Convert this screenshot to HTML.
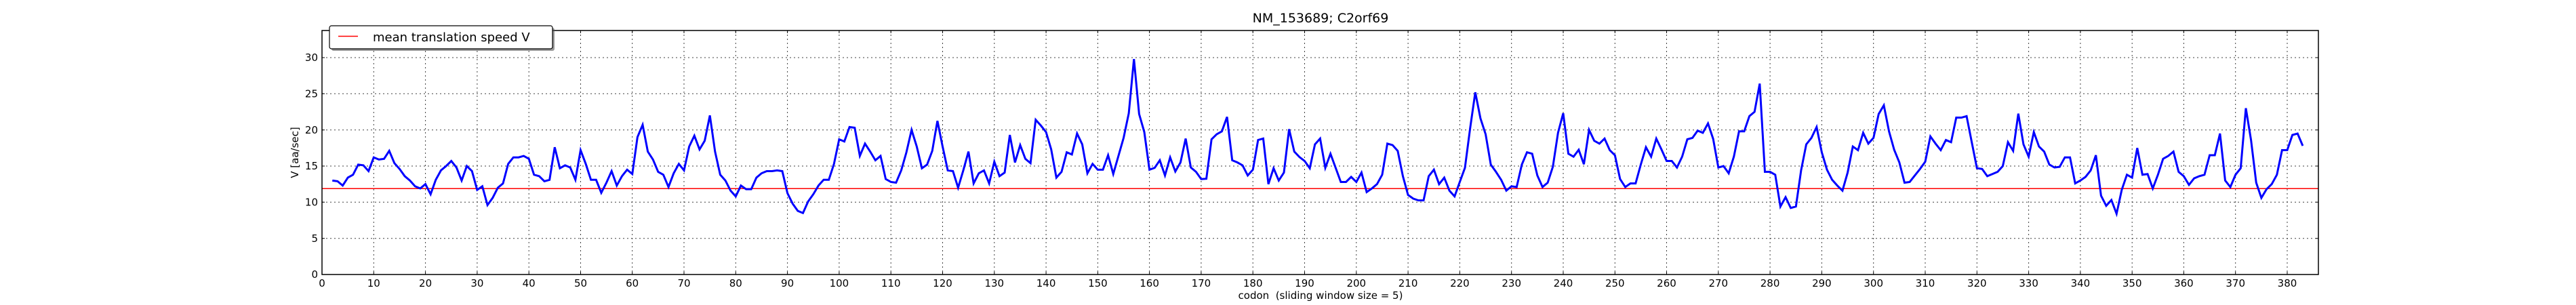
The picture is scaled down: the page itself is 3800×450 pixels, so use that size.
<!DOCTYPE html>
<html><head><meta charset="utf-8"><style>
html,body{margin:0;padding:0;background:#fff;}
svg{display:block;font-family:"DejaVu Sans","Liberation Sans",sans-serif;}
</style></head><body>
<svg width="3800" height="450" viewBox="0 0 3800 450" xmlns="http://www.w3.org/2000/svg">
<rect width="3800" height="450" fill="#fff"/>
<g stroke="#000" stroke-width="1" stroke-dasharray="2,4" opacity="0.75">
<line x1="475" x2="3420" y1="351.7" y2="351.7"/><line x1="475" x2="3420" y1="298.3" y2="298.3"/><line x1="475" x2="3420" y1="245" y2="245"/><line x1="475" x2="3420" y1="191.7" y2="191.7"/><line x1="475" x2="3420" y1="138.3" y2="138.3"/><line x1="475" x2="3420" y1="85" y2="85"/>
<line y1="45" y2="405" x1="551.3" x2="551.3"/><line y1="45" y2="405" x1="627.6" x2="627.6"/><line y1="45" y2="405" x1="703.9" x2="703.9"/><line y1="45" y2="405" x1="780.2" x2="780.2"/><line y1="45" y2="405" x1="856.5" x2="856.5"/><line y1="45" y2="405" x1="932.7" x2="932.7"/><line y1="45" y2="405" x1="1009" x2="1009"/><line y1="45" y2="405" x1="1085.3" x2="1085.3"/><line y1="45" y2="405" x1="1161.6" x2="1161.6"/><line y1="45" y2="405" x1="1237.9" x2="1237.9"/><line y1="45" y2="405" x1="1314.2" x2="1314.2"/><line y1="45" y2="405" x1="1390.5" x2="1390.5"/><line y1="45" y2="405" x1="1466.8" x2="1466.8"/><line y1="45" y2="405" x1="1543.1" x2="1543.1"/><line y1="45" y2="405" x1="1619.4" x2="1619.4"/><line y1="45" y2="405" x1="1695.6" x2="1695.6"/><line y1="45" y2="405" x1="1771.9" x2="1771.9"/><line y1="45" y2="405" x1="1848.2" x2="1848.2"/><line y1="45" y2="405" x1="1924.5" x2="1924.5"/><line y1="45" y2="405" x1="2000.8" x2="2000.8"/><line y1="45" y2="405" x1="2077.1" x2="2077.1"/><line y1="45" y2="405" x1="2153.4" x2="2153.4"/><line y1="45" y2="405" x1="2229.7" x2="2229.7"/><line y1="45" y2="405" x1="2306" x2="2306"/><line y1="45" y2="405" x1="2382.3" x2="2382.3"/><line y1="45" y2="405" x1="2458.5" x2="2458.5"/><line y1="45" y2="405" x1="2534.8" x2="2534.8"/><line y1="45" y2="405" x1="2611.1" x2="2611.1"/><line y1="45" y2="405" x1="2687.4" x2="2687.4"/><line y1="45" y2="405" x1="2763.7" x2="2763.7"/><line y1="45" y2="405" x1="2840" x2="2840"/><line y1="45" y2="405" x1="2916.3" x2="2916.3"/><line y1="45" y2="405" x1="2992.6" x2="2992.6"/><line y1="45" y2="405" x1="3068.9" x2="3068.9"/><line y1="45" y2="405" x1="3145.2" x2="3145.2"/><line y1="45" y2="405" x1="3221.4" x2="3221.4"/><line y1="45" y2="405" x1="3297.7" x2="3297.7"/><line y1="45" y2="405" x1="3374" x2="3374"/>
</g>
<line x1="475" x2="3420" y1="278.3" y2="278.3" stroke="#f00" stroke-width="1.5"/>
<g transform="translate(475,405) scale(7.629,-10.667)">
<polyline fill="none" stroke="#0000ff" stroke-width="3" vector-effect="non-scaling-stroke" stroke-linejoin="miter" points="2,13.0 3,12.9 4,12.3 5,13.4 6,13.8 7,15.2 8,15.1 9,14.3 10,16.2 11,15.9 12,16.0 13,17.1 14,15.4 15,14.6 16,13.6 17,13.0 18,12.2 19,11.9 20,12.5 21,11.1 22,13.1 23,14.4 24,15.0 25,15.7 26,14.8 27,13.0 28,15.0 29,14.3 30,11.7 31,12.2 32,9.6 33,10.6 34,12.0 35,12.6 36,15.3 37,16.2 38,16.2 39,16.4 40,16.0 41,13.8 42,13.6 43,12.9 44,13.1 45,17.6 46,14.7 47,15.1 48,14.8 49,13.1 50,17.2 51,15.3 52,13.1 53,13.1 54,11.3 55,12.7 56,14.3 57,12.3 58,13.6 59,14.5 60,13.9 61,19.0 62,20.7 63,17.0 64,15.9 65,14.2 66,13.8 67,12.1 68,14.0 69,15.3 70,14.4 71,17.7 72,19.2 73,17.3 74,18.5 75,22.0 76,17.0 77,13.8 78,13.0 79,11.6 80,10.8 81,12.3 82,11.8 83,11.8 84,13.4 85,14.0 86,14.3 87,14.3 88,14.4 89,14.3 90,11.25 91,9.8 92,8.8 93,8.5 94,10.1 95,11.1 96,12.3 97,13.1 98,13.1 99,15.3 100,18.7 101,18.4 102,20.4 103,20.3 104,16.4 105,18.1 106,17.0 107,15.8 108,16.4 109,13.2 110,12.8 111,12.7 112,14.4 113,16.9 114,20.0 115,17.7 116,14.7 117,15.2 118,17.1 119,21.25 120,17.7 121,14.4 122,14.3 123,12.0 124,14.4 125,17.0 126,12.6 127,14.0 128,14.4 129,12.6 130,15.6 131,13.6 132,14.1 133,19.3 134,15.5 135,17.9 136,16.0 137,15.4 138,21.4 139,20.6 140,19.7 141,17.3 142,13.4 143,14.2 144,16.9 145,16.6 146,19.5 147,18.0 148,14.0 149,15.3 150,14.5 151,14.5 152,16.5 153,13.9 154,16.4 155,18.9 156,22.3 157,29.8 158,22.2 159,19.7 160,14.5 161,14.75 162,15.8 163,13.7 164,16.2 165,14.25 166,15.5 167,18.8 168,14.8 169,14.2 170,13.2 171,13.25 172,18.7 173,19.4 174,19.8 175,21.8 176,15.8 177,15.5 178,15.1 179,13.7 180,14.5 181,18.6 182,18.8 183,12.5 184,14.7 185,13.0 186,14.1 187,20.1 188,17.0 189,16.25 190,15.7 191,14.7 192,18.0 193,18.8 194,14.75 195,16.7 196,14.75 197,12.8 198,12.8 199,13.5 200,12.8 201,14.1 202,11.4 203,11.9 204,12.5 205,13.8 206,18.1 207,17.9 208,17.1 209,13.6 210,11.0 211,10.5 212,10.25 213,10.25 214,13.6 215,14.5 216,12.5 217,13.4 218,11.6 219,10.8 220,12.8 221,14.75 222,20.2 223,25.2 224,21.6 225,19.4 226,15.2 227,14.2 228,13.1 229,11.6 230,12.2 231,12.1 232,15.2 233,16.9 234,16.7 235,13.7 236,12.1 237,12.7 238,14.9 239,19.6 240,22.3 241,16.7 242,16.3 243,17.25 244,15.25 245,20.0 246,18.5 247,18.1 248,18.8 249,17.2 250,16.5 251,13.2 252,12.1 253,12.6 254,12.6 255,15.2 256,17.6 257,16.3 258,18.8 259,17.3 260,15.7 261,15.7 262,14.8 263,16.3 264,18.7 265,18.9 266,19.9 267,19.6 268,20.9 269,18.75 270,14.8 271,15.0 272,14.0 273,16.3 274,19.8 275,19.8 276,21.9 277,22.5 278,26.4 279,14.2 280,14.2 281,13.8 282,9.4 283,10.7 284,9.2 285,9.4 286,14.4 287,18.0 288,18.9 289,20.4 290,16.9 291,14.5 292,13.1 293,12.3 294,11.6 295,14.1 296,17.7 297,17.2 298,19.6 299,18.1 300,18.9 301,22.2 302,23.4 303,19.8 304,17.25 305,15.5 306,12.7 307,12.8 308,13.7 309,14.6 310,15.6 311,19.1 312,18.1 313,17.2 314,18.6 315,18.3 316,21.7 317,21.7 318,21.9 319,18.3 320,14.7 321,14.6 322,13.6 323,13.9 324,14.2 325,15.0 326,18.3 327,17.1 328,22.25 329,18.0 330,16.3 331,19.7 332,17.7 333,17.0 334,15.2 335,14.8 336,14.9 337,16.2 338,16.2 339,12.6 340,13.0 341,13.5 342,14.4 343,16.5 344,10.9 345,9.5 346,10.3 347,8.4 348,11.7 349,13.8 350,13.4 351,17.5 352,13.8 353,13.9 354,11.9 355,13.8 356,16.0 357,16.4 358,17.0 359,14.2 360,13.6 361,12.4 362,13.3 363,13.6 364,13.8 365,16.5 366,16.5 367,19.5 368,13.0 369,12.1 370,13.8 371,14.7 372,23.0 373,18.6 374,12.7 375,10.6 376,11.8 377,12.5 378,13.8 379,17.2 380,17.2 381,19.3 382,19.5 383,17.8"/>
</g>
<g stroke="#000" stroke-width="1">
<path d="M475 351.7h4M475 298.3h4M475 245h4M475 191.7h4M475 138.3h4M475 85h4M3420 351.7h-4M3420 298.3h-4M3420 245h-4M3420 191.7h-4M3420 138.3h-4M3420 85h-4"/>
<path d="M551.3 405v-4M627.6 405v-4M703.9 405v-4M780.2 405v-4M856.5 405v-4M932.7 405v-4M1009 405v-4M1085.3 405v-4M1161.6 405v-4M1237.9 405v-4M1314.2 405v-4M1390.5 405v-4M1466.8 405v-4M1543.1 405v-4M1619.4 405v-4M1695.6 405v-4M1771.9 405v-4M1848.2 405v-4M1924.5 405v-4M2000.8 405v-4M2077.1 405v-4M2153.4 405v-4M2229.7 405v-4M2306 405v-4M2382.3 405v-4M2458.5 405v-4M2534.8 405v-4M2611.1 405v-4M2687.4 405v-4M2763.7 405v-4M2840 405v-4M2916.3 405v-4M2992.6 405v-4M3068.9 405v-4M3145.2 405v-4M3221.4 405v-4M3297.7 405v-4M3374 405v-4"/>
<path d="M551.3 45v4M627.6 45v4M703.9 45v4M780.2 45v4M856.5 45v4M932.7 45v4M1009 45v4M1085.3 45v4M1161.6 45v4M1237.9 45v4M1314.2 45v4M1390.5 45v4M1466.8 45v4M1543.1 45v4M1619.4 45v4M1695.6 45v4M1771.9 45v4M1848.2 45v4M1924.5 45v4M2000.8 45v4M2077.1 45v4M2153.4 45v4M2229.7 45v4M2306 45v4M2382.3 45v4M2458.5 45v4M2534.8 45v4M2611.1 45v4M2687.4 45v4M2763.7 45v4M2840 45v4M2916.3 45v4M2992.6 45v4M3068.9 45v4M3145.2 45v4M3221.4 45v4M3297.7 45v4M3374 45v4"/>
</g>
<rect x="475" y="45" width="2945" height="360" fill="none" stroke="#000" stroke-width="1.5"/>
<g fill="#000" font-size="15" text-anchor="end">
<text x="469" y="410">0</text><text x="469" y="357">5</text><text x="469" y="303.5">10</text><text x="469" y="250">15</text><text x="469" y="197">20</text><text x="469" y="143.5">25</text><text x="469" y="90">30</text>
</g>
<g fill="#000" font-size="15" text-anchor="middle">
<text x="475" y="423">0</text><text x="551.3" y="423">10</text><text x="627.6" y="423">20</text><text x="703.9" y="423">30</text><text x="780.2" y="423">40</text><text x="856.5" y="423">50</text><text x="932.7" y="423">60</text><text x="1009" y="423">70</text><text x="1085.3" y="423">80</text><text x="1161.6" y="423">90</text><text x="1237.9" y="423">100</text><text x="1314.2" y="423">110</text><text x="1390.5" y="423">120</text><text x="1466.8" y="423">130</text><text x="1543.1" y="423">140</text><text x="1619.4" y="423">150</text><text x="1695.6" y="423">160</text><text x="1771.9" y="423">170</text><text x="1848.2" y="423">180</text><text x="1924.5" y="423">190</text><text x="2000.8" y="423">200</text><text x="2077.1" y="423">210</text><text x="2153.4" y="423">220</text><text x="2229.7" y="423">230</text><text x="2306" y="423">240</text><text x="2382.3" y="423">250</text><text x="2458.5" y="423">260</text><text x="2534.8" y="423">270</text><text x="2611.1" y="423">280</text><text x="2687.4" y="423">290</text><text x="2763.7" y="423">300</text><text x="2840" y="423">310</text><text x="2916.3" y="423">320</text><text x="2992.6" y="423">330</text><text x="3068.9" y="423">340</text><text x="3145.2" y="423">350</text><text x="3221.4" y="423">360</text><text x="3297.7" y="423">370</text><text x="3374" y="423">380</text>
</g>
<text x="1948" y="33" font-size="19" text-anchor="middle" fill="#000">NM_153689; C2orf69</text>
<text x="1948" y="441" font-size="15" text-anchor="middle" fill="#000" xml:space="preserve">codon  (sliding window size = 5)</text>
<text transform="translate(440,225) rotate(-90)" font-size="15" text-anchor="middle" fill="#000">V [aa/sec]</text>
<rect x="489" y="41" width="329" height="34" rx="3" fill="#555" opacity="0.6"/>
<rect x="486" y="38" width="329" height="34" rx="3" fill="#fff" stroke="#000" stroke-width="1.2"/>
<line x1="499" x2="528" y1="53.5" y2="53.5" stroke="#f00" stroke-width="1.5"/>
<text x="550" y="61" font-size="18" fill="#000">mean translation speed V</text>
</svg>
</body></html>
